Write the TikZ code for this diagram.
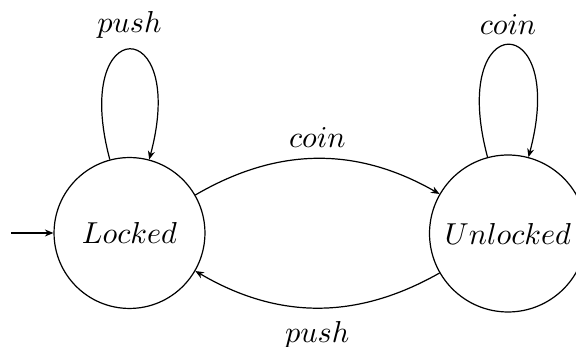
\documentclass[tikz,border=0pt]{standalone}
\usetikzlibrary{arrows.meta}
\begin{document}
\begin{tikzpicture}[x=0.33pt,y=0.33pt,
  state/.style={draw,circle,inner sep=0pt,line width=0.4pt},
  trans/.style={line width=0.4pt,-{Stealth[length=2.8pt,width=2.3pt,inset=0.9pt]}},
  lbl/.style={font=\normalsize}]
\useasboundingbox (0,0) rectangle (576,-347);
\node[state,minimum size=49.8pt] (L) at (129.5,-233) {$Locked$};
\node[state,minimum size=51.8pt] (U) at (508,-233.5) {$Unlocked$};
\coordinate (init) at (11,-233);
\draw[trans] (init) -- (L.west);
\draw[trans] (L.105) .. controls +(105:152) and +(75:152) .. node[above,lbl] {$push$} (L.75);
\draw[trans] (U.105) .. controls +(105:155) and +(75:155) .. node[above,lbl] {$coin$} (U.75);
\draw[trans] (L.30) to[bend left=30] node[above,lbl] {$coin$} (U.150);
\draw[trans] (U.210) to[bend left=30] node[below,lbl,yshift=-1pt] {$push$} (L.-30);
\end{tikzpicture}
\end{document}
